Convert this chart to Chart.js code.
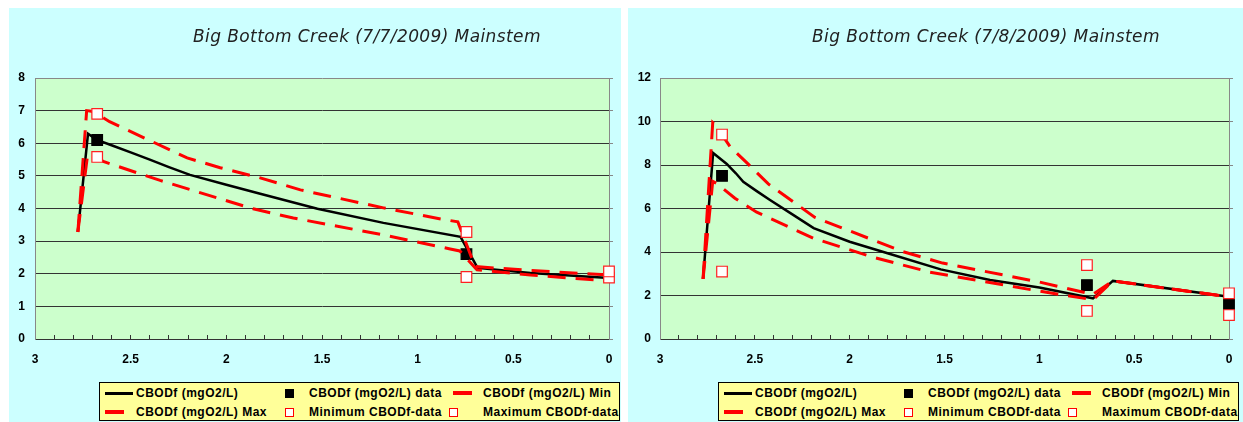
<!DOCTYPE html>
<html>
<head>
<meta charset="utf-8">
<script src="https://cdn.jsdelivr.net/npm/chart.js@4.4.0/dist/chart.umd.min.js"></script>
<style>
  body { margin:0; background:#fff; width:1243px; height:422px; overflow:hidden; position:relative; }
  .panel { position:absolute; top:8px; height:414px; background:#ccffff; }
  .panel canvas { position:absolute; left:0; top:0; }
  .title { position:absolute; left:0; width:716px; top:18px; text-align:center; font:italic 17px "DejaVu Sans"; letter-spacing:0.4px; color:#222; line-height:20px; white-space:nowrap; }
  .legend { position:absolute; left:90px; top:374px; width:519px; height:37px; background:#ffff99; border:1px solid #000; }
  .legend .txt { position:absolute; font:bold 12px "Liberation Sans", Arial, sans-serif; letter-spacing:0.5px; line-height:14px; white-space:nowrap; color:#000; }
  .legend .sw { position:absolute; box-sizing:border-box; }
</style>
</head>
<body>
<div class="panel" id="p1" style="left:9px;width:612px;">
  <canvas id="c1" width="612" height="414"></canvas>
  <div class="title" id="t1"></div>
  <div class="legend" id="l1"></div>
</div>
<div class="panel" id="p2" style="left:628px;width:615px;">
  <canvas id="c2" width="615" height="414"></canvas>
  <div class="title" id="t2"></div>
  <div class="legend" id="l2"></div>
</div>
<script>
// series names
const legendLabels = ["CBODf (mgO2/L)", "CBODf (mgO2/L) data", "CBODf (mgO2/L) Min",
                      "CBODf (mgO2/L) Max", "Minimum CBODf-data", "Maximum CBODf-data"];
const titles = ["Big Bottom Creek (7/7/2009) Mainstem", "Big Bottom Creek (7/8/2009) Mainstem"];
const xTickLabels = [3, 2.5, 2, 1.5, 1, 0.5, 0];
const yTickLabels1 = [0, 1, 2, 3, 4, 5, 6, 7, 8];
const yTickLabels2 = [0, 2, 4, 6, 8, 10, 12];

// 7/7/2009 (distance km, CBODf mgO2/L)
const d1ModelKm = [2.776, 2.723, 2.676, 2.6, 2.5, 2.4, 2.3, 2.19, 2.0, 1.823, 1.524, 1.179, 0.776, 0.687, 0.41, 0];
const d1Model   = [3.28, 6.29, 6.1, 5.94, 5.72, 5.5, 5.27, 5.03, 4.73, 4.45, 3.99, 3.56, 3.13, 2.18, 2.02, 1.87];
const d1MinKm = [2.776, 2.725, 2.676, 2.643, 2.346, 1.86, 1.65, 1.179, 0.83, 0.78, 0.69, 0.41, 0];
const d1Min   = [3.28, 5.65, 5.58, 5.44, 4.86, 3.99, 3.71, 3.19, 2.76, 2.7, 2.12, 1.96, 1.78];
const d1MaxKm = [2.776, 2.73, 2.705, 2.676, 2.61, 2.205, 2.032, 1.823, 1.613, 1.179, 0.88, 0.79, 0.70, 0.41, 0];
const d1Max   = [3.28, 7.0, 6.98, 6.9, 6.66, 5.55, 5.25, 4.94, 4.57, 4.02, 3.68, 3.59, 2.22, 2.1, 1.96];
const d1DataKm = [2.675, 0.745];
const d1Data   = [6.1, 2.6];
const d1ObsKm  = [2.675, 0.745, 0];
const d1MinData = [5.58, 1.9, 1.88];
const d1MaxData = [6.9, 3.28, 2.07];

// 7/8/2009
const d2ModelKm = [2.773, 2.72, 2.648, 2.6, 2.561, 2.49, 2.42, 2.3, 2.19, 2.0, 1.80, 1.52, 1.26, 1.0, 0.717, 0.612, 0];
const d2Model   = [2.76, 8.55, 8.05, 7.62, 7.23, 6.8, 6.39, 5.72, 5.1, 4.47, 3.94, 3.2, 2.71, 2.37, 1.87, 2.67, 1.94];
const d2MinKm = [2.773, 2.722, 2.70, 2.605, 2.49, 2.19, 1.88, 1.58, 1.0, 0.77, 0.717, 0.612, 0];
const d2Min   = [2.76, 7.25, 7.15, 6.47, 5.83, 4.63, 3.77, 3.08, 2.2, 1.88, 1.8, 2.67, 1.94];
const d2MaxKm = [2.773, 2.722, 2.705, 2.63, 2.536, 2.429, 2.183, 1.717, 1.51, 1.0, 0.717, 0.612, 0];
const d2Max   = [2.76, 9.95, 9.8, 8.84, 8.05, 7.13, 5.59, 4.01, 3.49, 2.62, 2.05, 2.67, 1.94];
const d2ObsKm  = [2.673, 0.749, 0];
const d2Data    = [7.5, 2.48, 1.6];
const d2MinData = [3.1, 1.29, 1.1];
const d2MaxData = [9.4, 3.4, 2.1];

const tickFont = { family: "Liberation Sans", size: 12, weight: "bold" };

function pts(xs, ys) {
  return ys.map((y, i) => ({ x: xs[i], y: y }));
}

function lineSet(label, xs, ys, color, dash, width, order) {
  return {
    label: label, data: pts(xs, ys), showLine: true, borderColor: color,
    borderWidth: width, borderDash: dash, pointRadius: 0, tension: 0,
    order: order, clip: false
  };
}

function markSet(label, xs, ys, fill, stroke, order) {
  return {
    label: label, data: pts(xs, ys), showLine: false, pointStyle: "rect",
    pointRadius: 7.5, backgroundColor: fill, borderColor: stroke, borderWidth: 1.2, order: order, clip: false
  };
}

const plotBg = {
  id: "plotBg",
  beforeDraw(chart) {
    const a = chart.chartArea, ctx = chart.ctx;
    ctx.save();
    ctx.fillStyle = "#ccffcc";
    ctx.fillRect(a.left, a.top, a.right - a.left, a.bottom - a.top);
    ctx.restore();
  }
};

function makeChart(id, datasets, yMax, yStep, yLabels, yWidth, yPad, padRight) {
  return new Chart(document.getElementById(id), {
    type: "scatter",
    data: { datasets: datasets },
    plugins: [plotBg],
    options: {
      responsive: false,
      animation: false,
      events: [],
      layout: { padding: { top: 70, right: padRight, bottom: 53, left: 0 } },
      plugins: { legend: { display: false }, tooltip: { enabled: false } },
      scales: {
        x: {
          type: "linear", reverse: true, min: 0, max: 3,
          afterFit: s => { s.height = 30; s.paddingLeft = 0; s.paddingRight = 0; },
          grid: { drawOnChartArea: false, tickLength: -4, color: "#333" },
          border: { color: "#333" },
          ticks: {
            stepSize: 0.1, autoSkip: false, maxRotation: 0, padding: 17,
            color: "#000", font: tickFont,
            callback: v => {
              const t = xTickLabels.find(l => Math.abs(l - v) < 1e-6);
              return t === undefined ? "" : String(t);
            }
          }
        },
        y: {
          position: "left", min: 0, max: yMax,
          afterFit: s => { s.width = yWidth; },
          grid: { drawTicks: false, color: c => (c.tick && c.tick.value === yMax) ? "#888" : "#333" },
          border: { color: "#888" },
          ticks: {
            stepSize: yStep, padding: yPad, color: "#000", font: tickFont,
            callback: v => yLabels.includes(v) ? String(v) : ""
          }
        },
        y2: {
          position: "right", min: 0, max: yMax,
          afterFit: s => { s.width = 5; },
          grid: { drawOnChartArea: false, tickLength: 4, color: "#888" },
          border: { color: "#888" },
          ticks: { stepSize: yStep, padding: 0, callback: () => "" }
        }
      }
    }
  });
}

function buildLegend(id) {
  const box = document.getElementById(id);
  // [left of swatch, swatch kind, text left, row]
  const slots = [
    [5, "black", 36, 0], [189, "sq", 209, 0], [353, "red", 383, 0],
    [5, "red", 36, 1], [189, "open", 209, 1], [353, "open", 383, 1]
  ];
  const rows = [10, 29];
  slots.forEach((s, i) => {
    const cy = rows[s[3]];
    const sw = document.createElement("div");
    sw.className = "sw";
    if (s[1] === "black") {
      Object.assign(sw.style, { left: s[0] + "px", top: (cy - 1.5) + "px", width: "28px", height: "3px", background: "#000" });
    } else if (s[1] === "red") {
      Object.assign(sw.style, { left: s[0] + "px", top: (cy - 2) + "px", width: "19px", height: "4px", background: "#ff0000" });
    } else if (s[1] === "sq") {
      Object.assign(sw.style, { left: (s[0] - 4) + "px", top: (cy - 4) + "px", width: "9px", height: "9px", background: "#000" });
    } else {
      Object.assign(sw.style, { left: (s[0] - 4) + "px", top: (cy - 4) + "px", width: "9px", height: "9px", background: "#fff", border: "1px solid #ff0000" });
    }
    box.appendChild(sw);
    const t = document.createElement("div");
    t.className = "txt";
    t.style.left = s[2] + "px";
    t.style.top = (cy - 7) + "px";
    t.textContent = legendLabels[i];
    box.appendChild(t);
  });
}

document.getElementById("t1").textContent = titles[0];
document.getElementById("t2").textContent = titles[1];
buildLegend("l1");
buildLegend("l2");

makeChart("c1", [
  lineSet(legendLabels[0], d1ModelKm, d1Model, "#000", [], 2.5, 6),
  markSet(legendLabels[1], d1DataKm, d1Data, "#000", "#000", 5),
  lineSet(legendLabels[2], d1MinKm, d1Min, "#ff0000", [18, 10], 3, 4),
  lineSet(legendLabels[3], d1MaxKm, d1Max, "#ff0000", [18, 10], 3, 3),
  markSet(legendLabels[4], d1ObsKm, d1MinData, "#fff", "#ff2020", 2),
  markSet(legendLabels[5], d1ObsKm, d1MaxData, "#fff", "#ff2020", 1)
], 8, 1, yTickLabels1, 26, 10, 7);

makeChart("c2", [
  lineSet(legendLabels[0], d2ModelKm, d2Model, "#000", [], 2.5, 6),
  markSet(legendLabels[1], d2ObsKm, d2Data, "#000", "#000", 5),
  lineSet(legendLabels[2], d2MinKm, d2Min, "#ff0000", [18, 10], 3, 4),
  lineSet(legendLabels[3], d2MaxKm, d2Max, "#ff0000", [18, 10], 3, 3),
  markSet(legendLabels[4], d2ObsKm, d2MinData, "#fff", "#ff2020", 2),
  markSet(legendLabels[5], d2ObsKm, d2MaxData, "#fff", "#ff2020", 1)
], 12, 2, yTickLabels2, 32, 9, 9);
</script>
</body>
</html>
